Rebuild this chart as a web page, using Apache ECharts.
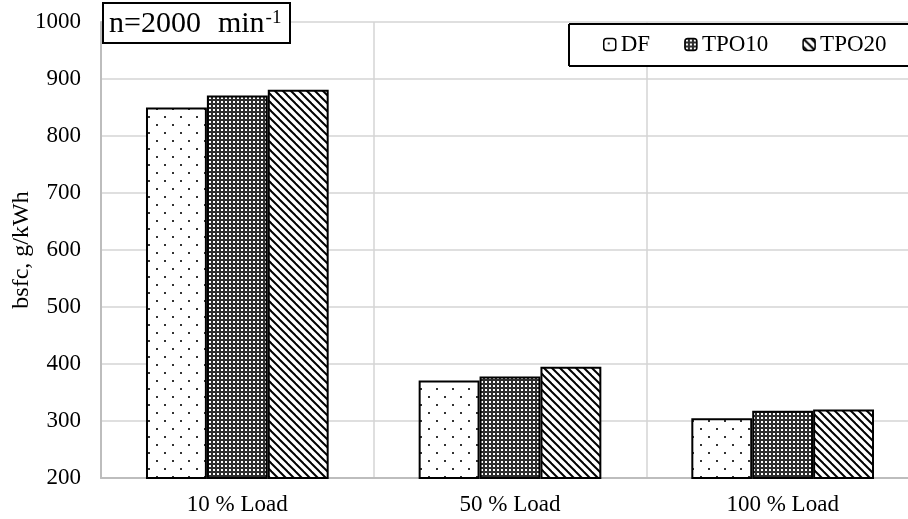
<!DOCTYPE html>
<html>
<head>
<meta charset="utf-8">
<script src="https://cdn.jsdelivr.net/npm/echarts@6/dist/echarts.min.js"></script>
<style>
  html, body { margin: 0; padding: 0; background: #fff; overflow: hidden; }
  #chart { width: 908px; height: 519px; }
</style>
</head>
<body>
<div id="chart"></div>
<script>
  // 数据
  var categories = ['10 % Load', '50 % Load', '100 % Load']
  var seriesNames = ['DF', 'TPO10', 'TPO20']
  var dfValues = [850, 371, 305]
  var tpo10Values = [871, 378, 318]
  var tpo20Values = [881, 395, 320]

  var fontFamily = "'Liberation Serif', 'Times New Roman', serif"
  var gridColor = '#d4d4d4'
  var axisColor = '#bdbdbd'

  // 填充纹理
  function makeTile(size, draw) {
    var c = document.createElement('canvas')
    c.width = size
    c.height = size
    var ctx = c.getContext('2d')
    draw(ctx, size)
    return { image: c, repeat: 'repeat' }
  }

  var dotPattern = makeTile(16, function (ctx, s) {
    ctx.fillStyle = '#fff'
    ctx.fillRect(0, 0, s, s)
    ctx.fillStyle = '#333'
    ctx.fillRect(4, 4, 2, 2)
    ctx.fillRect(12, 12, 2, 2)
  })

  var gridPattern = makeTile(4, function (ctx, s) {
    ctx.fillStyle = '#2e2e2e'
    ctx.fillRect(0, 0, s, s)
    ctx.fillStyle = '#fff'
    ctx.fillRect(1, 1, 2, 2)
  })

  var stripePattern = makeTile(8, function (ctx, s) {
    ctx.fillStyle = '#fff'
    ctx.fillRect(0, 0, s, s)
    ctx.strokeStyle = '#000'
    ctx.lineWidth = 2
    ;[-s, 0, s].forEach(function (x0) {
      ctx.beginPath()
      ctx.moveTo(x0 - 1, -1)
      ctx.lineTo(x0 + s + 1, s + 1)
      ctx.stroke()
    })
  })

  var myChart = echarts.init(document.getElementById('chart'))

  function barSeries(name, data, fill) {
    return {
      name: name,
      type: 'bar',
      data: data,
      barGap: 0,
      barCategoryGap: '33%',
      itemStyle: {
        color: fill,
        borderColor: '#000',
        borderWidth: 2
      }
    }
  }

  // 图例外框：上、左、下三条边（右边在画布外）
  function boxLine(x1, y1, x2, y2) {
    return {
      type: 'line',
      z: 3,
      shape: { x1: x1, y1: y1, x2: x2, y2: y2 },
      style: { stroke: '#000', lineWidth: 2 }
    }
  }

  var option = {
    backgroundColor: '#fff',
    animation: false,
    title: {
      text: 'n=2000{m|min}{s|-1}',
      left: 103,
      top: 3,
      padding: [6, 9, 4, 6],
      borderColor: '#000',
      borderWidth: 2,
      backgroundColor: '#fff',
      textStyle: {
        fontFamily: fontFamily,
        fontWeight: 'normal',
        fontSize: 30,
        color: '#000',
        rich: {
          m: { fontFamily: fontFamily, fontSize: 30, color: '#000', padding: [0, 0, 0, 17] },
          s: { fontFamily: fontFamily, fontSize: 19, color: '#000', verticalAlign: 'top', padding: [0, 0, 12, 1] }
        }
      }
    },
    graphic: [
      {
        type: 'rect',
        z: 3,
        shape: { x: 569, y: 24, width: 340, height: 42 },
        style: { fill: '#fff' }
      },
      boxLine(569, 24, 908, 24),
      boxLine(569, 24, 569, 66),
      boxLine(569, 66, 908, 66)
    ],
    legend: {
      data: seriesNames,
      left: 603,
      top: 33,
      width: 400,
      padding: 0,
      itemGap: 34,
      itemWidth: 12,
      itemHeight: 12,
      itemStyle: { borderColor: '#000', borderWidth: 1.5 },
      textStyle: { fontFamily: fontFamily, fontSize: 23, color: '#000' }
    },
    grid: {
      left: 101,
      right: -11,
      top: 22,
      bottom: 41,
      containLabel: false,
      outerBoundsMode: 'none'
    },
    xAxis: {
      type: 'category',
      data: categories,
      axisLine: { lineStyle: { color: axisColor, width: 2 } },
      axisTick: { show: false },
      axisLabel: { fontFamily: fontFamily, fontSize: 23, color: '#000', margin: 15 },
      splitLine: { show: true, lineStyle: { color: gridColor, width: 1.5 } }
    },
    yAxis: {
      type: 'value',
      min: 200,
      max: 1000,
      interval: 100,
      name: 'bsfc, g/kWh',
      nameLocation: 'middle',
      nameGap: 67,
      nameMoveOverlap: false,
      nameTextStyle: { fontFamily: fontFamily, fontSize: 24, color: '#000' },
      axisLine: { show: true, lineStyle: { color: axisColor, width: 2 } },
      axisTick: { show: false },
      axisLabel: {
        fontFamily: fontFamily, fontSize: 23, color: '#000', margin: 20,
        formatter: function (v) { return String(v) }
      },
      splitLine: { show: true, lineStyle: { color: gridColor, width: 1.5 } }
    },
    series: [
      barSeries('DF', dfValues, dotPattern),
      barSeries('TPO10', tpo10Values, gridPattern),
      barSeries('TPO20', tpo20Values, stripePattern)
    ]
  }

  myChart.setOption(option, true)
  window.addEventListener('resize', function () { myChart.resize() })
</script>
</body>
</html>
